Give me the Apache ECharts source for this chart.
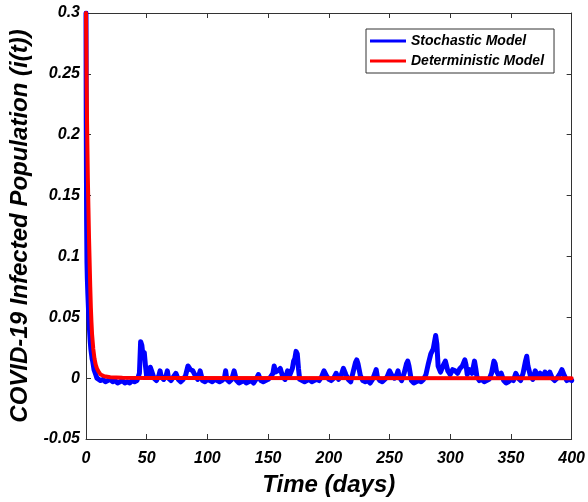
<!DOCTYPE html>
<html>
<head>
<meta charset="utf-8">
<script src="https://cdn.jsdelivr.net/npm/echarts@6/dist/echarts.min.js"></script>
<style>
html,body{margin:0;padding:0;background:#fff;}
#chart{width:588px;height:502px;}
</style>
</head>
<body>
<div id="chart"></div>
<script>
// ---- Data ----
const xTicks = [0, 50, 100, 150, 200, 250, 300, 350, 400];
const yTicks = [-0.05, 0, 0.05, 0.1, 0.15, 0.2, 0.25, 0.3];

const stochTime = [
  0, 0.2, 0.5, 0.8, 1.1, 1.5, 2, 2.5, 3, 3.5, 4, 4.5, 5, 5.5, 6, 6.6, 7, 8, 9,
  10, 12, 14, 16, 18, 20, 22, 24, 26, 28, 30, 32, 34, 36, 38, 40, 42, 44, 45, 46, 47, 48, 49,
  50, 52, 53, 54, 56, 58, 60, 61, 62, 64, 66, 67, 68, 70, 72, 74, 76, 78, 80, 82, 84, 86, 88,
  90, 92, 94, 96, 98, 100, 102, 104, 106, 108, 110, 112, 114, 115, 116, 118, 120, 122, 124,
  126, 128, 130, 132, 134, 136, 138, 140, 142, 144, 146, 148, 150, 152, 154, 155, 156, 158,
  160, 162, 164, 166, 168, 170, 171, 172, 173, 174, 175, 176, 178, 180, 182, 184, 186, 188,
  190, 192, 194, 196, 198, 200, 202, 204, 206, 208, 210, 212, 214, 216, 218, 220, 222, 223,
  224, 226, 228, 230, 232, 234, 236, 238, 239, 240, 242, 244, 246, 248, 250, 252, 254, 256,
  257, 258, 260, 262, 264, 265, 266, 268, 270, 272, 274, 276, 278, 280, 282, 284, 286, 288,
  289, 290, 292, 294, 296, 297, 298, 300, 302, 304, 306, 308, 310, 312, 313, 314, 316, 318,
  320, 321, 322, 324, 326, 328, 330, 332, 334, 336, 337, 338, 340, 342, 344, 346, 348, 350,
  352, 354, 356, 358, 360, 362, 363, 364, 366, 368, 370, 372, 374, 376, 378, 380, 382, 384,
  386, 388, 390, 392, 394, 396, 398, 400
];
const stochValue = [
  0.3, 0.21, 0.13, 0.095, 0.082, 0.07, 0.058, 0.047, 0.038, 0.03, 0.024, 0.02, 0.016, 0.014, 0.011, 0.007, 0.006, 0.003, 0.0,
  -0.001, -0.002, -0.001, -0.003, -0.002, -0.001, -0.003, -0.002, -0.004, -0.003, -0.002, -0.004, -0.003, -0.004, -0.002, -0.003, -0.002, 0.004, 0.030, 0.027, 0.018, 0.021, 0.010,
  0.001, 0.003, 0.009, 0.006, 0.000, -0.002, 0.002, 0.006, 0.001, -0.001, 0.002, 0.006, 0.000, -0.002, 0.001, 0.004, -0.001, -0.003, -0.001, 0.002, 0.010, 0.007, 0.006,
  0.002, -0.001, 0.006, -0.002, -0.003, -0.001, -0.002, -0.003, -0.001, -0.002, -0.003, -0.002, 0.000, 0.006, -0.001, -0.003, -0.001, 0.006, -0.002,
  -0.004, -0.003, -0.002, -0.004, -0.003, -0.002, -0.004, -0.001, 0.003, -0.002, -0.003, -0.002, -0.001, 0.001, 0.004, 0.010, 0.005, 0.006,
  0.008, 0.001, -0.001, 0.006, 0.003, 0.008, 0.014, 0.016, 0.022, 0.020, 0.008, -0.001, -0.002, -0.003, -0.002, -0.001, -0.003, -0.002,
  -0.001, -0.002, 0.001, 0.006, 0.002, -0.001, -0.002, 0.000, 0.004, -0.001, 0.002, 0.008, 0.003, -0.001, -0.003, 0.005, 0.013, 0.015,
  0.012, 0.002, -0.002, -0.003, -0.002, -0.004, -0.001, 0.004, 0.007, 0.001, -0.002, -0.003, -0.001, 0.001, 0.006, 0.002, 0.000, 0.003,
  0.006, 0.001, -0.002, 0.004, 0.012, 0.014, 0.010, -0.002, -0.004, -0.003, -0.002, -0.003, -0.001, 0.003, 0.012, 0.020, 0.024, 0.035,
  0.028, 0.010, 0.005, 0.010, 0.014, 0.015, 0.006, 0.003, 0.007, 0.006, 0.004, 0.008, 0.010, 0.015, 0.011, 0.003, 0.007, 0.004,
  0.014, 0.008, 0.001, -0.002, -0.001, -0.003, -0.002, -0.001, 0.004, 0.014, 0.012, 0.006, 0.002, 0.004, -0.002, -0.004, -0.003, -0.001,
  -0.002, 0.004, 0.000, -0.002, 0.004, 0.014, 0.018, 0.010, 0.002, -0.001, 0.006, 0.002, 0.004, 0.001, 0.005, 0.002, 0.005, 0.000,
  -0.002, 0.000, 0.003, 0.007, 0.002, -0.002, -0.001, -0.002
];

const detTime = [0, 0.5, 1, 1.5, 2, 2.5, 3, 3.5, 4, 4.5, 5, 6, 7, 8, 9, 10, 12, 15, 20, 30, 50, 400];
const detValue = [0.3, 0.24, 0.2, 0.165, 0.14, 0.115, 0.095, 0.075, 0.058, 0.046, 0.036, 0.024, 0.016, 0.011, 0.008, 0.006, 0.003, 0.0015, 0.0007, 0.0003, 0.0001, 0.0];

const seriesNames = ['Stochastic Model', 'Deterministic Model'];

// ---- Build ----
const stochData = stochTime.map((t, i) => [t, stochValue[i]]);
const detData = detTime.map((t, i) => [t, detValue[i]]);

const FONT = '"Liberation Sans", Arial, Helvetica, sans-serif';
const axisColor = '#333';
const fmtY = v => String(+v.toFixed(2));

const chart = echarts.init(document.getElementById('chart'), null, {renderer: 'canvas'});
chart.setOption({
  animation: false,
  backgroundColor: '#fff',
  grid: {left: 86, right: 16, top: 13, bottom: 62, show: false},
  legend: {
    data: seriesNames,
    orient: 'vertical',
    left: 366, top: 29,
    icon: 'rect',
    itemWidth: 36, itemHeight: 3,
    itemGap: 6,
    itemTextGap: 6,
    padding: [5, 10, 5, 4],
    borderColor: '#333', borderWidth: 1,
    backgroundColor: '#fff',
    textStyle: {fontFamily: FONT, fontSize: 14, fontWeight: 'bold', fontStyle: 'italic', color: '#000', lineHeight: 14}
  },
  xAxis: [{
    type: 'value', min: xTicks[0], max: xTicks[xTicks.length - 1], interval: 50,
    name: 'Time (days)', nameLocation: 'middle', nameGap: 34,
    nameTextStyle: {fontFamily: FONT, fontSize: 24, fontWeight: 'bold', fontStyle: 'italic', color: '#000'},
    axisLine: {show: true, onZero: false, lineStyle: {color: axisColor, width: 1}},
    axisTick: {show: true, inside: true, length: 5, lineStyle: {color: axisColor}},
    axisLabel: {margin: 12, fontFamily: FONT, fontSize: 16, fontWeight: 'bold', fontStyle: 'italic', color: '#000'},
    splitLine: {show: false}
  }, {
    type: 'value', position: 'top', min: xTicks[0], max: xTicks[xTicks.length - 1], interval: 50,
    axisLine: {show: true, onZero: false, lineStyle: {color: axisColor, width: 1}},
    axisTick: {show: true, inside: true, length: 5, lineStyle: {color: axisColor}},
    axisLabel: {show: false}, splitLine: {show: false}
  }],
  yAxis: [{
    type: 'value', min: yTicks[0], max: yTicks[yTicks.length - 1], interval: 0.05,
    name: 'COVID-19 Infected Population (i(t))', nameLocation: 'middle', nameGap: 46,
    nameTextStyle: {fontFamily: FONT, fontSize: 24, fontWeight: 'bold', fontStyle: 'italic', color: '#000'},
    axisLine: {show: true, onZero: false, lineStyle: {color: axisColor, width: 1}},
    axisTick: {show: true, inside: true, length: 5, lineStyle: {color: axisColor}},
    axisLabel: {margin: 6, formatter: fmtY, fontFamily: FONT, fontSize: 16, fontWeight: 'bold', fontStyle: 'italic', color: '#000'},
    splitLine: {show: false}
  }, {
    type: 'value', position: 'right', min: yTicks[0], max: yTicks[yTicks.length - 1], interval: 0.05,
    axisLine: {show: true, onZero: false, lineStyle: {color: axisColor, width: 1}},
    axisTick: {show: true, inside: true, length: 5, lineStyle: {color: axisColor}},
    axisLabel: {show: false}, splitLine: {show: false}
  }],
  series: [{
    name: seriesNames[0], type: 'line', data: stochData,
    showSymbol: false, symbol: 'none', color: '#0000ff',
    lineStyle: {color: '#0000ff', width: 5, join: 'round', cap: 'round'},
    z: 2
  }, {
    name: seriesNames[1], type: 'line', data: detData,
    showSymbol: false, symbol: 'none', color: '#ff0000',
    lineStyle: {color: '#ff0000', width: 4, join: 'round', cap: 'round'},
    z: 3
  }]
});
</script>
</body>
</html>
